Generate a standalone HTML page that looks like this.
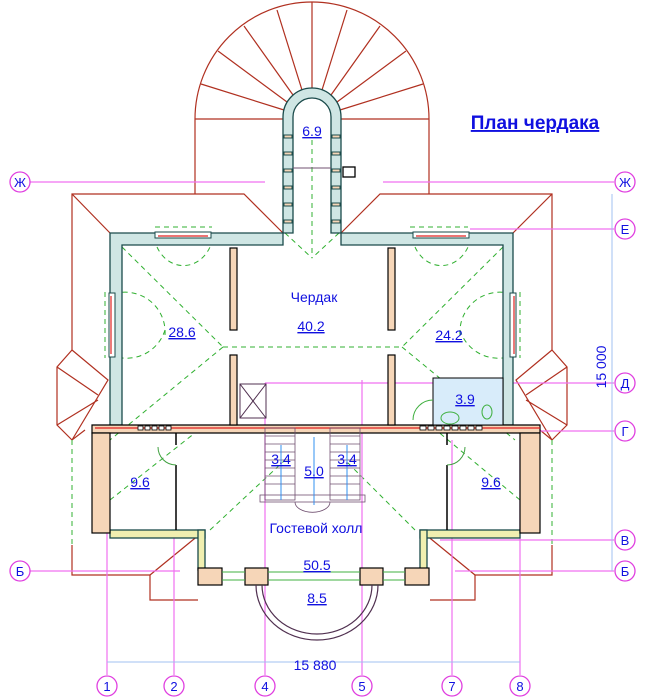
<!DOCTYPE html>
<html><head><meta charset="utf-8"><style>
html,body{margin:0;padding:0;background:#fff;}
svg{display:block;}
text{font-family:"Liberation Sans",sans-serif;}
.lbl{fill:#1010e0;font-size:14px;text-anchor:middle;text-decoration:underline;}
.g{fill:#fff;stroke:#e040e0;stroke-width:1.3;}
.gt{fill:#1010e0;font-size:13px;text-anchor:middle;}
</style></head><body>
<svg width="657" height="700" viewBox="0 0 657 700" xmlns="http://www.w3.org/2000/svg">
<g fill="none" stroke="#b03020" stroke-width="1.2">
<path d="M195,194 L195,119 A117,117 0 0 1 429,119 L429,194"/>
<line x1="195" y1="119" x2="283" y2="119"/><line x1="341" y1="119" x2="429" y2="119"/>
<line x1="312" y1="2" x2="312" y2="90"/>
<line x1="277" y1="10" x2="302" y2="90"/><line x1="347" y1="10" x2="322" y2="90"/>
<line x1="244" y1="26" x2="293" y2="95"/><line x1="380" y1="26" x2="331" y2="95"/>
<line x1="218" y1="51" x2="287" y2="102"/><line x1="406" y1="51" x2="337" y2="102"/>
<line x1="201" y1="84" x2="284" y2="110"/><line x1="423" y1="84" x2="340" y2="110"/>
<path d="M283,233 L244,194 L72,194 L72,350"/>
<path d="M341,233 L380,194 L552,194 L552,350"/>
<line x1="72" y1="194" x2="110" y2="233"/><line x1="552" y1="194" x2="513" y2="233"/>
<path d="M72,350 L57,367 L57,425 L72,440 L85,430"/>
<path d="M72,350 L108,380 L72,440"/><line x1="57" y1="367" x2="98" y2="395"/><line x1="57" y1="425" x2="98" y2="400"/>
<path d="M552,350 L567,367 L567,425 L552,440 L540,430"/>
<path d="M552,350 L516,380 L552,440"/><line x1="567" y1="367" x2="526" y2="395"/><line x1="567" y1="425" x2="526" y2="400"/>
<path d="M72,545 L72,575 L150,575 L150,600 L198,600"/>
<path d="M552,545 L552,575 L475,575 L475,600 L430,600"/>
<line x1="150" y1="575" x2="205" y2="530"/><line x1="475" y1="575" x2="420" y2="530"/>
</g>
<g fill="none" stroke="#30b030" stroke-width="1" stroke-dasharray="5,4">
<line x1="122" y1="247" x2="223" y2="347"/><line x1="503" y1="247" x2="402" y2="347"/>
<line x1="223" y1="347" x2="402" y2="347"/>
<line x1="223" y1="347" x2="110" y2="440"/><line x1="402" y1="347" x2="515" y2="440"/>
<line x1="312" y1="140" x2="312" y2="258"/><line x1="285" y1="233" x2="312" y2="258"/><line x1="339" y1="233" x2="312" y2="258"/>
<line x1="110" y1="500" x2="205" y2="425"/><line x1="210" y1="530" x2="285" y2="460"/>
<line x1="520" y1="500" x2="430" y2="425"/><line x1="415" y1="530" x2="345" y2="460"/>
<path d="M165,335 A40,40 0 0 0 117,293"/><path d="M165,330 A40,40 0 0 1 117,357"/>
<path d="M460,335 A40,40 0 0 1 508,293"/><path d="M460,330 A40,40 0 0 0 508,357"/>
<path d="M157,247 A30,35 0 0 0 210,247"/><path d="M415,247 A30,35 0 0 0 468,247"/>
<line x1="72" y1="440" x2="72" y2="545"/><line x1="552" y1="440" x2="552" y2="545"/>
<line x1="155" y1="227" x2="212" y2="227"/><line x1="410" y1="227" x2="468" y2="227"/>
<line x1="105" y1="292" x2="105" y2="358"/><line x1="520" y1="292" x2="520" y2="358"/>
</g>
<g stroke="#f070f0" stroke-width="1.2" fill="none">
<line x1="30" y1="182" x2="265" y2="182"/><line x1="383" y1="182" x2="614" y2="182"/>
<line x1="470" y1="229" x2="614" y2="229"/>
<line x1="265" y1="383" x2="614" y2="383"/>
<line x1="530" y1="431" x2="614" y2="431"/>
<line x1="440" y1="540" x2="614" y2="540"/>
<line x1="30" y1="571" x2="180" y2="571"/><line x1="455" y1="571" x2="614" y2="571"/>
<line x1="107" y1="425" x2="107" y2="675"/><line x1="174" y1="535" x2="174" y2="675"/>
<line x1="265" y1="383" x2="265" y2="675"/><line x1="362" y1="380" x2="362" y2="675"/>
<line x1="452" y1="440" x2="452" y2="675"/><line x1="520" y1="440" x2="520" y2="675"/>
</g>
<g stroke="#a0c0f0" stroke-width="1"><line x1="107" y1="662" x2="520" y2="662"/><line x1="612" y1="194" x2="612" y2="571"/></g>
<g stroke="#1a4a4a" stroke-width="1.3">
<path d="M283,233 L283,117 A29,29 0 0 1 341,117 L341,233 L331,233 L331,117 A19,19 0 0 0 293,117 L293,233 Z" fill="#cfe6e4"/>
</g>
<g stroke="#1a4a4a" stroke-width="1" fill="#f6d6b8">
<rect x="284" y="135" width="8" height="3"/><rect x="284" y="152" width="8" height="3"/><rect x="284" y="169" width="8" height="3"/><rect x="284" y="186" width="8" height="3"/><rect x="284" y="203" width="8" height="3"/><rect x="284" y="220" width="8" height="3"/>
<rect x="332" y="135" width="8" height="3"/><rect x="332" y="152" width="8" height="3"/><rect x="332" y="169" width="8" height="3"/><rect x="332" y="186" width="8" height="3"/><rect x="332" y="203" width="8" height="3"/><rect x="332" y="220" width="8" height="3"/>
</g>
<line x1="293" y1="168" x2="331" y2="168" stroke="#705070"/>
<rect x="343" y="167" width="12" height="10" fill="#fff" stroke="#000" stroke-width="1.3"/>
<g fill="#cfe6e4" stroke="#1a4a4a" stroke-width="1.3">
<path d="M110,233 L283,233 L283,245 L122,245 L122,425 L110,425 Z"/>
<path d="M341,233 L513,233 L513,425 L503,425 L503,245 L341,245 Z"/>
<rect x="110" y="530" width="95" height="8" fill="#f0efb0"/><rect x="198" y="530" width="7" height="40" fill="#f0efb0"/>
<rect x="420" y="530" width="100" height="8" fill="#f0efb0"/><rect x="420" y="530" width="7" height="40" fill="#f0efb0"/>
</g>
<g fill="#fff" stroke="#1a4a4a" stroke-width="1">
<rect x="155" y="232" width="56" height="6"/><rect x="413" y="232" width="56" height="6"/>
<rect x="109" y="293" width="6" height="64"/><rect x="510" y="293" width="6" height="64"/>
</g>
<g stroke="#e02020" stroke-width="1.2"><line x1="158" y1="236" x2="208" y2="236"/><line x1="416" y1="236" x2="466" y2="236"/><line x1="111" y1="296" x2="111" y2="354"/><line x1="514" y1="296" x2="514" y2="354"/></g>
<g fill="#f6d6b8" stroke="#000" stroke-width="1.2">
<path d="M92,425 L540,425 L540,433 L92,433 Z"/>
<rect x="92" y="433" width="18" height="100"/><rect x="520" y="433" width="20" height="100"/>
<rect x="230" y="248" width="7" height="82"/><rect x="388" y="248" width="7" height="82"/>
<rect x="230" y="355" width="7" height="70"/><rect x="388" y="355" width="7" height="70"/>
<rect x="198" y="568" width="24" height="17"/><rect x="245" y="568" width="23" height="17"/>
<rect x="360" y="568" width="23" height="17"/><rect x="405" y="568" width="24" height="17"/>
</g>
<line x1="95" y1="428" x2="540" y2="428" stroke="#e02020" stroke-width="1.2"/>
<g fill="#fff" stroke="#000" stroke-width="0.8">
<rect x="138" y="426" width="5" height="4"/><rect x="145" y="426" width="5" height="4"/><rect x="152" y="426" width="5" height="4"/><rect x="159" y="426" width="5" height="4"/><rect x="166" y="426" width="5" height="4"/>
<rect x="420" y="426" width="6" height="4"/><rect x="428" y="426" width="6" height="4"/><rect x="436" y="426" width="6" height="4"/><rect x="444" y="426" width="6" height="4"/><rect x="452" y="426" width="6" height="4"/><rect x="460" y="426" width="6" height="4"/><rect x="468" y="426" width="6" height="4"/><rect x="476" y="426" width="6" height="4"/>
</g>
<g stroke="#000" stroke-width="1.5"><line x1="176" y1="433" x2="176" y2="445"/><line x1="176" y1="465" x2="176" y2="530"/><line x1="447" y1="433" x2="447" y2="445"/><line x1="447" y1="465" x2="447" y2="530"/></g>
<g fill="none" stroke="#40a040"><path d="M176,465 A18,18 0 0 1 158,447"/><path d="M447,465 A18,18 0 0 0 465,447"/></g>
<rect x="240" y="384" width="26" height="34" fill="#fff" stroke="#503050"/>
<path d="M240,384 L266,418 M266,384 L240,418" stroke="#503050"/>
<rect x="433" y="378" width="70" height="47" fill="#d8ecfa" stroke="#000"/>
<g fill="none" stroke="#40b040"><ellipse cx="450" cy="418" rx="9" ry="6"/><ellipse cx="487" cy="412" rx="5" ry="7"/><path d="M433,400 A20,20 0 0 0 413,420"/></g>
<g stroke="#705070" stroke-width="0.8" fill="none">
<rect x="265" y="428" width="30" height="72"/><rect x="330" y="428" width="30" height="72"/>
<rect x="260" y="495" width="105" height="7"/>
<path d="M295,502 A17,10 0 0 0 330,502"/>
<path d="M265,436h30M265,444h30M265,452h30M265,460h30M265,468h30M265,476h30M265,484h30M330,436h30M330,444h30M330,452h30M330,460h30M330,468h30M330,476h30M330,484h30"/>
</g>
<g stroke="#3090f0" stroke-width="1"><line x1="281" y1="445" x2="281" y2="500"/><line x1="347" y1="445" x2="347" y2="500"/><line x1="314" y1="437" x2="314" y2="505"/></g>
<g fill="none" stroke="#503050" stroke-width="1.2">
<path d="M256,585 A61,55 0 0 0 378,585"/><path d="M262,585 A55,49 0 0 0 372,585"/>
</g>
<g stroke="#40b040" fill="none"><line x1="222" y1="572" x2="245" y2="572"/><line x1="268" y1="572" x2="360" y2="572"/><line x1="383" y1="572" x2="405" y2="572"/><line x1="222" y1="580" x2="245" y2="580"/><line x1="268" y1="580" x2="360" y2="580"/><line x1="383" y1="580" x2="405" y2="580"/></g>
<g>
<circle class="g" cx="20" cy="182" r="10"/><text class="gt" x="20" y="187">Ж</text>
<circle class="g" cx="625" cy="182" r="10"/><text class="gt" x="625" y="187">Ж</text>
<circle class="g" cx="625" cy="229" r="10"/><text class="gt" x="625" y="234">Е</text>
<circle class="g" cx="625" cy="383" r="10"/><text class="gt" x="625" y="388">Д</text>
<circle class="g" cx="625" cy="431" r="10"/><text class="gt" x="625" y="436">Г</text>
<circle class="g" cx="625" cy="540" r="10"/><text class="gt" x="625" y="545">В</text>
<circle class="g" cx="625" cy="571" r="10"/><text class="gt" x="625" y="576">Б</text>
<circle class="g" cx="20" cy="571" r="10"/><text class="gt" x="20" y="576">Б</text>
<circle class="g" cx="107" cy="686" r="10"/><text class="gt" x="107" y="691">1</text>
<circle class="g" cx="174" cy="686" r="10"/><text class="gt" x="174" y="691">2</text>
<circle class="g" cx="265" cy="686" r="10"/><text class="gt" x="265" y="691">4</text>
<circle class="g" cx="362" cy="686" r="10"/><text class="gt" x="362" y="691">5</text>
<circle class="g" cx="452" cy="686" r="10"/><text class="gt" x="452" y="691">7</text>
<circle class="g" cx="520" cy="686" r="10"/><text class="gt" x="520" y="691">8</text>
</g>
<text x="535" y="129" style="fill:#1010e0;font-size:19px;font-weight:bold;text-anchor:middle;text-decoration:underline">План чердака</text>
<text class="lbl" x="312" y="136">6.9</text>
<text x="314" y="302" style="fill:#1010e0;font-size:14px;text-anchor:middle">Чердак</text>
<text class="lbl" x="311" y="331">40.2</text>
<text class="lbl" x="182" y="337">28.6</text>
<text class="lbl" x="449" y="340">24.2</text>
<text class="lbl" x="465" y="404">3.9</text>
<text class="lbl" x="281" y="464">3.4</text>
<text class="lbl" x="347" y="464">3.4</text>
<text class="lbl" x="314" y="476">5.0</text>
<text class="lbl" x="140" y="487">9.6</text>
<text class="lbl" x="491" y="487">9.6</text>
<text x="316" y="533" style="fill:#1010e0;font-size:14px;text-anchor:middle">Гостевой холл</text>
<text class="lbl" x="317" y="570">50.5</text>
<text class="lbl" x="317" y="603">8.5</text>
<text x="315" y="670" style="fill:#1010e0;font-size:14px;text-anchor:middle">15 880</text>
<text x="0" y="0" transform="translate(606,367) rotate(-90)" style="fill:#1010e0;font-size:14px;text-anchor:middle">15 000</text>
</svg>
</body></html>
